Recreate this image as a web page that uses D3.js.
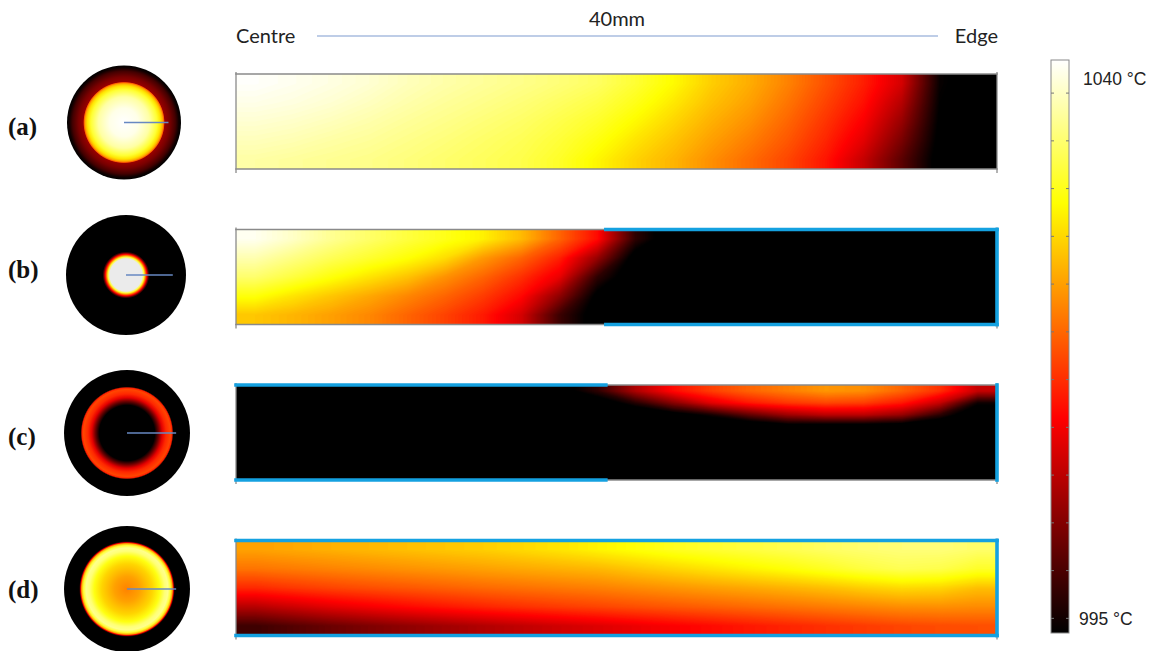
<!DOCTYPE html>
<html>
<head>
<meta charset="utf-8">
<script src="https://cdn.jsdelivr.net/npm/d3@7"></script>
<style>
  body { margin: 0; background: #fff; }
  svg { display: block; }
</style>
</head>
<body>
<div id="chart"></div>
<script>
// Temperature range of the colour bar (°C)
const tMin = 995, tMax = 1040;

const panelLabels = ["(a)", "(b)", "(c)", "(d)"];
const headerLabels = ["Centre", "40mm", "Edge"];
const colorbarLabels = [{ value: 1040, text: "1040 °C" }, { value: 995, text: "995 °C" }];
const colorbarTicks = [1037.4, 1033.65, 1029.9, 1026.15, 1022.4, 1018.65, 1014.9, 1011.15, 1007.4, 1003.65, 999.9, 996.15];

// Longitudinal sections, centre (left) to edge (right); rows top to bottom, °C
const fieldA = [
  [1039.8, 1039.3, 1038.7, 1038.0, 1037.0, 1036.2, 1035.5, 1034.8, 1034.0, 1033.0, 1031.0, 1028.5, 1025.5, 1023.3, 1020.5, 1017.2, 1013.8, 1009.0, 995.5, 993],
  [1039.0, 1038.6, 1038.0, 1037.2, 1036.3, 1035.5, 1034.8, 1034.0, 1033.0, 1031.8, 1029.8, 1027.3, 1024.6, 1022.5, 1019.6, 1016.3, 1012.8, 1007.0, 995.0, 993],
  [1038.0, 1037.6, 1037.0, 1036.3, 1035.5, 1034.8, 1034.0, 1033.2, 1032.0, 1030.6, 1028.4, 1026.0, 1023.5, 1021.4, 1018.6, 1015.3, 1011.5, 1005.0, 994.5, 993],
  [1037.0, 1036.6, 1036.0, 1035.5, 1034.8, 1034.1, 1033.3, 1032.5, 1031.2, 1029.4, 1027.0, 1024.8, 1022.4, 1020.2, 1017.6, 1014.3, 1010.0, 1003.0, 994.0, 993],
  [1036.0, 1035.6, 1035.2, 1034.8, 1034.2, 1033.5, 1032.8, 1032.0, 1030.5, 1028.2, 1025.8, 1023.8, 1021.3, 1019.0, 1016.5, 1013.2, 1008.0, 1001.0, 993.5, 993]
];
const fieldB = [
  [1039.3, 1037.5, 1035.2, 1033.3, 1031.5, 1029.8, 1027.8, 1024.2, 1018.5, 1012.5, 998.0, 992, 992, 992, 992, 992, 992, 992, 992, 992],
  [1036.5, 1034.5, 1032.5, 1030.8, 1029.0, 1026.5, 1022.0, 1018.5, 1014.0, 1005.0, 993.0, 992, 992, 992, 992, 992, 992, 992, 992, 992],
  [1033.5, 1031.5, 1029.2, 1027.0, 1024.8, 1021.5, 1018.5, 1015.0, 1010.5, 998.0, 992, 992, 992, 992, 992, 992, 992, 992, 992, 992],
  [1029.2, 1027.0, 1025.0, 1023.0, 1020.8, 1018.5, 1015.8, 1012.3, 1004.5, 994.0, 992, 992, 992, 992, 992, 992, 992, 992, 992, 992],
  [1025.0, 1023.8, 1022.4, 1020.8, 1018.5, 1016.2, 1013.5, 1009.0, 999.0, 993.0, 992, 992, 992, 992, 992, 992, 992, 992, 992, 992]
];
const fieldC = [
  [990, 990, 990, 990, 990, 990, 990, 990, 993, 998, 1006.5, 1012.5, 1016.0, 1018.5, 1020.2, 1021.8, 1021.2, 1018.5, 1015.0, 1008.0],
  [990, 990, 990, 990, 990, 990, 990, 990, 990, 992, 997.5, 1004.0, 1010.0, 1013.5, 1015.5, 1016.5, 1016.0, 1013.5, 1008.0, 996.0],
  [990, 990, 990, 990, 990, 990, 990, 990, 990, 990, 990, 993.0, 996.5, 1001.5, 1005.5, 1007.5, 1007.5, 1005.0, 998.0, 991.0],
  [990, 990, 990, 990, 990, 990, 990, 990, 990, 990, 990, 990, 990, 990, 992.5, 992.0, 992.0, 991.5, 990, 990],
  [990, 990, 990, 990, 990, 990, 990, 990, 990, 990, 990, 990, 990, 990, 990, 990, 990, 990, 990, 990],
  [990, 990, 990, 990, 990, 990, 990, 990, 990, 990, 990, 990, 990, 990, 990, 990, 990, 990, 990, 990],
  [990, 990, 990, 990, 990, 990, 990, 990, 990, 990, 990, 990, 990, 990, 990, 990, 990, 990, 990, 990],
  [990, 990, 990, 990, 990, 990, 990, 990, 990, 990, 990, 990, 990, 990, 990, 990, 990, 990, 990, 990]
];
const fieldD = [
  [1022.5, 1023.0, 1023.5, 1024.0, 1024.5, 1025.0, 1025.5, 1026.2, 1027.0, 1028.0, 1029.0, 1030.0, 1030.8, 1031.5, 1032.2, 1033.0, 1033.6, 1034.0, 1034.0, 1033.3],
  [1019.5, 1020.0, 1020.5, 1021.0, 1021.5, 1022.0, 1022.5, 1023.0, 1023.5, 1024.0, 1025.0, 1026.0, 1027.0, 1028.0, 1029.0, 1030.2, 1031.5, 1032.4, 1032.0, 1030.5],
  [1014.5, 1015.5, 1016.3, 1017.0, 1017.6, 1018.2, 1018.8, 1019.3, 1019.8, 1020.3, 1021.0, 1021.7, 1022.4, 1023.0, 1023.7, 1024.5, 1025.5, 1026.3, 1026.0, 1024.5],
  [1007.0, 1008.5, 1010.0, 1011.2, 1012.3, 1013.3, 1014.2, 1015.0, 1015.7, 1016.3, 1017.0, 1017.6, 1018.2, 1018.8, 1019.4, 1020.0, 1020.6, 1021.2, 1021.3, 1021.0],
  [999.0, 1000.5, 1002.0, 1003.3, 1004.5, 1005.6, 1006.7, 1007.7, 1008.7, 1009.6, 1010.6, 1011.6, 1012.5, 1013.4, 1014.2, 1015.0, 1015.7, 1016.4, 1016.8, 1017.0]
];
const fields = [fieldA, fieldB, fieldC, fieldD];

// Cross sections: [radius fraction, °C]
const profileA = [[0, 1040], [0.25, 1039], [0.45, 1036], [0.58, 1031], [0.64, 1027], [0.68, 1023], [0.70, 1018], [0.715, 1005], [0.80, 1003], [0.90, 999.5], [0.96, 996], [1, 994]];
const profileB = [[0, 1042], [0.27, 1042], [0.30, 1031], [0.32, 1022], [0.345, 1012], [0.37, 1001], [0.39, 994], [1, 994]];
const profileC = [[0, 990], [0.44, 993], [0.50, 1002], [0.56, 1010], [0.62, 1014.5], [0.69, 1016.5], [0.715, 1014], [0.735, 995], [1, 990]];
const profileD = [[0, 1020.5], [0.2, 1022.5], [0.4, 1026], [0.52, 1029.5], [0.6, 1034], [0.65, 1035], [0.69, 1031], [0.72, 1023], [0.735, 1012], [0.75, 998], [0.76, 994], [1, 994]];
const profiles = [profileA, profileB, profileC, profileD];

// Insulated (blue) and plain (grey) boundaries: [side, from, to] as fraction of length
const splitAt = 0.486;
const blueEdges = [
  [],
  [["top", splitAt, 1], ["bottom", splitAt, 1], ["right", 0, 1]],
  [["top", 0, splitAt], ["bottom", 0, splitAt], ["right", 0, 1]],
  [["top", 0, 1], ["bottom", 0, 1], ["right", 0, 1]]
];
const greyEdges = [
  [["top", 0, 1], ["bottom", 0, 1]],
  [["top", 0, splitAt], ["bottom", 0, splitAt]],
  [["top", splitAt, 1], ["bottom", splitAt, 1]],
  []
];

// Layout
const W = 1151, H = 651;
const panelX0 = 236, panelX1 = 997, panelH = 95;
const panelTops = [74, 229.5, 385, 540.5];
const circles = [{ cx: 124, cy: 122.5, r: 57 }, { cx: 126, cy: 275, r: 60 }, { cx: 127, cy: 433, r: 63 }, { cx: 127, cy: 589, r: 63 }];
const labelBaselines = [135, 278, 445, 598];

// MATLAB-style "hot" colour map
const heat = d3.scaleLinear()
  .domain([tMin, tMin + 0.375 * (tMax - tMin), tMin + 0.75 * (tMax - tMin), tMax])
  .range(["#000000", "#ff0000", "#ffff00", "#ffffff"])
  .clamp(true);
const color = t => t > tMax ? "#ebebeb" : heat(t);

const svg = d3.select("#chart").append("svg")
  .attr("width", W).attr("height", H)
  .style("font-family", "Lato, 'Liberation Sans', sans-serif");
const defs = svg.append("defs");

// Header
svg.append("text").attr("x", 236).attr("y", 43).text(headerLabels[0])
  .style("font-size", "20px").attr("fill", "#222");
svg.append("text").attr("x", 617).attr("y", 26).attr("text-anchor", "middle").text(headerLabels[1])
  .style("font-size", "20px").attr("fill", "#222");
svg.append("text").attr("x", 998).attr("y", 43).attr("text-anchor", "end").text(headerLabels[2])
  .style("font-size", "20px").attr("fill", "#222");
svg.append("line").attr("x1", 317).attr("x2", 938).attr("y1", 36).attr("y2", 36)
  .attr("stroke", "#a8bddf").attr("stroke-width", 1.5);

// Field panels drawn as filled contour bands
const step = 0.25;
const thresholds = d3.range(tMin, tMax + 0.01, step);

// repeat the outer row/column so the contour bands run cleanly to the panel edges
const padGrid = grid => {
  const rows = grid.map(r => [r[0], ...r, r[r.length - 1]]);
  return [rows[0], ...rows, rows[rows.length - 1]];
};

fields.forEach((grid, k) => {
  const rows = grid.length, cols = grid[0].length;
  const top = panelTops[k];
  const x = d3.scaleLinear().domain([0, cols]).range([panelX0, panelX1]);
  const y = d3.scaleLinear().domain([0, rows]).range([top, top + panelH]);
  const fx = d3.scaleLinear().domain([0, 1]).range([panelX0, panelX1]);

  const proj = d3.geoTransform({
    point(px, py) { this.stream.point(x(px - 1), y(py - 1)); }
  });
  const path = d3.geoPath(proj);
  const bands = d3.contours().size([cols + 2, rows + 2]).thresholds(thresholds)(padGrid(grid).flat());

  defs.append("clipPath").attr("id", "clip" + k)
    .append("rect").attr("x", panelX0).attr("y", top).attr("width", panelX1 - panelX0).attr("height", panelH);

  const g = svg.append("g").attr("clip-path", `url(#clip${k})`);
  g.append("rect").attr("x", panelX0).attr("y", top).attr("width", panelX1 - panelX0).attr("height", panelH)
    .attr("fill", color(tMin - 1));
  g.selectAll("path").data(bands).join("path")
    .attr("d", path)
    .attr("fill", d => color(d.value + step / 2));

  // Grey end ticks
  [panelX0, panelX1].forEach(xx => {
    svg.append("line").attr("x1", xx).attr("x2", xx).attr("y1", top - 2).attr("y2", top + panelH + 4)
      .attr("stroke", "#8a8a8a").attr("stroke-width", 1.3);
  });

  const edgeLine = (sel, e, stroke, width) => {
    const [side, a, b] = e;
    let x1, x2, y1, y2;
    if (side === "top") { x1 = fx(a); x2 = fx(b); y1 = y2 = top; }
    else if (side === "bottom") { x1 = fx(a); x2 = fx(b); y1 = y2 = top + panelH; }
    else { x1 = x2 = panelX1; y1 = top + a * panelH; y2 = top + b * panelH; }
    sel.append("line").attr("x1", x1).attr("x2", x2).attr("y1", y1).attr("y2", y2)
      .attr("stroke", stroke).attr("stroke-width", width).attr("stroke-linecap", "square");
  };
  greyEdges[k].forEach(e => edgeLine(svg, e, "#8a8a8a", 1.6));
  blueEdges[k].forEach(e => edgeLine(svg, e, "#14a1e0", 3.6));
});

// Cross sections as radial colour profiles
profiles.forEach((prof, k) => {
  const c = circles[k];
  const grad = defs.append("radialGradient").attr("id", "rad" + k);
  grad.selectAll("stop").data(prof).join("stop")
    .attr("offset", d => (d[0] * 100) + "%")
    .attr("stop-color", d => color(d[1]));
  svg.append("circle").attr("cx", c.cx).attr("cy", c.cy).attr("r", c.r)
    .attr("fill", `url(#rad${k})`);
  svg.append("line").attr("x1", c.cx).attr("x2", c.cx + c.r * 0.78).attr("y1", c.cy).attr("y2", c.cy)
    .attr("stroke", "#6788c2").attr("stroke-width", 1.3);
  svg.append("text").attr("x", 8).attr("y", labelBaselines[k]).text(panelLabels[k])
    .style("font-family", "'Liberation Serif', 'DejaVu Serif', serif")
    .style("font-weight", "bold").style("font-size", "25px").attr("fill", "#111");
});

// Colour bar
const cbX = 1051, cbW = 18;
const cbY = d3.scaleLinear().domain([tMin, tMax]).range([633, 60]);
const lg = defs.append("linearGradient").attr("id", "cbGrad")
  .attr("x1", 0).attr("y1", 1).attr("x2", 0).attr("y2", 0);
lg.selectAll("stop").data(heat.domain()).join("stop")
  .attr("offset", d => ((d - tMin) / (tMax - tMin) * 100) + "%")
  .attr("stop-color", d => heat(d));
svg.append("rect").attr("x", cbX).attr("y", cbY(tMax)).attr("width", cbW).attr("height", cbY(tMin) - cbY(tMax))
  .attr("fill", "url(#cbGrad)").attr("stroke", "#8a8a8a").attr("stroke-width", 1);
svg.selectAll(".cbtick").data(colorbarTicks).join("g").attr("class", "cbtick")
  .each(function (v) {
    const gg = d3.select(this);
    gg.append("line").attr("x1", cbX).attr("x2", cbX + 3).attr("y1", cbY(v)).attr("y2", cbY(v))
      .attr("stroke", "#777").attr("stroke-width", 1);
    gg.append("line").attr("x1", cbX + cbW - 3).attr("x2", cbX + cbW).attr("y1", cbY(v)).attr("y2", cbY(v))
      .attr("stroke", "#777").attr("stroke-width", 1);
  });
svg.selectAll(".cblabel").data(colorbarLabels).join("text").attr("class", "cblabel")
  .attr("x", d => d.value === tMax ? 1083 : 1079)
  .attr("y", d => d.value === tMax ? cbY(d.value) + 25 : cbY(d.value) - 8)
  .text(d => d.text)
  .style("font-family", "'Liberation Sans', Arial, sans-serif")
  .style("font-size", "17.5px").attr("fill", "#222");
</script>
</body>
</html>
